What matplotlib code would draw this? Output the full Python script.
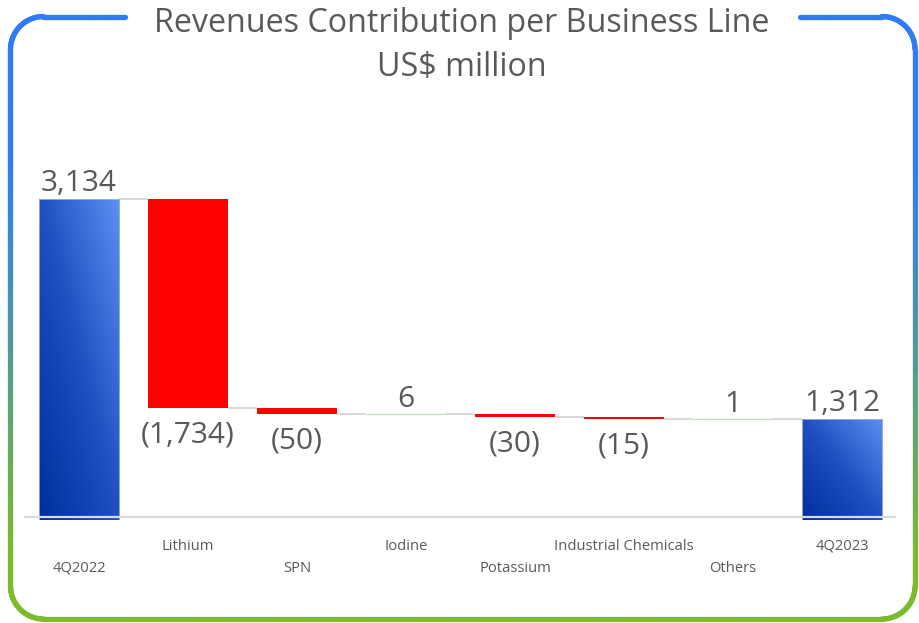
import matplotlib
matplotlib.use("Agg")
import matplotlib.pyplot as plt
import matplotlib.transforms as mtransforms
from matplotlib.collections import LineCollection
from matplotlib.colors import LinearSegmentedColormap, to_rgb
from matplotlib.patches import Rectangle
import numpy as np

# data
categories = ['4Q2022', 'Lithium', 'SPN', 'Iodine', 'Potassium',
              'Industrial Chemicals', 'Others', '4Q2023']
changes = [3134, -1734, -50, 6, -30, -15, 1, 1312]
is_total = [True, False, False, False, False, False, False, True]
label_row = [1, 0, 1, 0, 1, 0, 1, 0]   # 0 = upper row, 1 = lower row

TXT = '#595959'
RED = '#ff0000'
GREEN = '#c5e0b4'
GRID = '#d9d9d9'
plt.rcParams['font.family'] = ['Open Sans', 'DejaVu Sans']

W, H = 920, 623
fig = plt.figure(figsize=(W / 100, H / 100), dpi=100)

# main axes (y axis starts around 475, like the original)
ax = fig.add_axes([24.5 / W, 1 - 520 / H, 872 / W, 370 / H])
ymin, ymax = 475, 3541
x = np.arange(len(categories))
bw = 0.734

blue_cmap = LinearSegmentedColormap.from_list('blu', ['#002f9e', '#1f4fc0', '#5c8ff2'])

# running totals
bottoms, tops = [], []
run = 0
for v, tot in zip(changes, is_total):
    if tot:
        b, t = 0, v
        run = v
    else:
        b, t = run, run + v
        run = run + v
    bottoms.append(min(b, t))
    tops.append(max(b, t))

for i, v in enumerate(changes):
    if is_total[i]:
        rect = Rectangle((x[i] - bw / 2, 0), bw, v, facecolor='none',
                         edgecolor='#9db4e8', lw=0.6, zorder=3)
        ax.add_patch(rect)
        uu, vv = np.meshgrid(np.linspace(0, 1, 60), np.linspace(0, 1, 60))
        grad = 0.5 * uu + 0.5 * vv
        im = ax.imshow(grad, cmap=blue_cmap, origin='lower', aspect='auto',
                       extent=[x[i] - bw / 2, x[i] + bw / 2, ymin, v], zorder=2)
        im.set_clip_path(rect)
    elif v < 0:
        ax.bar(x[i], tops[i] - bottoms[i], bottom=bottoms[i], width=bw,
               color=RED, zorder=2)
    else:
        ax.bar(x[i], tops[i] - bottoms[i], bottom=bottoms[i], width=bw,
               color=GREEN, edgecolor=GREEN, lw=0.9, zorder=2)

# connector lines
level = changes[0]
for i in range(len(changes) - 1):
    if i > 0:
        level += changes[i]
    ax.plot([x[i] + bw / 2, x[i + 1] - bw / 2], [level, level],
            color=GRID, lw=1.5, zorder=1, solid_capstyle='butt')

ax.axhline(500, color=GRID, lw=1.6, zorder=4)

# value labels
for i, v in enumerate(changes):
    if is_total[i]:
        txt, y, va, off = f'{v:,}', tops[i], 'bottom', 1
    elif v > 0:
        txt, y, va, off = f'{v}', tops[i], 'bottom', 0
    else:
        txt, y, va, off = f'({abs(v):,})', bottoms[i], 'top', -9
    ax.annotate(txt, (x[i], y), xytext=(0, off), textcoords='offset points',
                ha='center', va=va, fontsize=21.5, color=TXT)

ax.set_xlim(-0.5, len(categories) - 0.5)
ax.set_ylim(ymin, ymax)
ax.axis('off')

# staggered category labels
trans = mtransforms.blended_transform_factory(ax.transData, fig.transFigure)
for i, c in enumerate(categories):
    ypix = 546.5 if label_row[i] == 0 else 568.5
    ax.text(x[i], 1 - ypix / H, c, transform=trans, ha='center', va='center',
            fontsize=10.6, color=TXT, clip_on=False)

# title
fig.text(462 / W, 1 - 24 / H, 'Revenues Contribution per Business Line',
         ha='center', va='center', fontsize=23.2, color=TXT)
fig.text(462 / W, 1 - 67 / H, 'US$ million',
         ha='center', va='center', fontsize=23.2, color=TXT)

# rounded gradient frame with a gap for the title
ov = fig.add_axes([0, 0, 1, 1], zorder=-1)
ov.set_xlim(0, W)
ov.set_ylim(H, 0)
ov.axis('off')
L, R, T, B, r = 10.5, 915, 16.5, 619, 33
pts = []
pts += [(xx, T) for xx in np.linspace(125, L + r, 40)]
a = np.linspace(np.pi / 2, np.pi, 30)
pts += [(L + r + r * np.cos(t), T + r - r * np.sin(t)) for t in a]
pts += [(L, yy) for yy in np.linspace(T + r, B - r, 200)]
a = np.linspace(np.pi, 1.5 * np.pi, 30)
pts += [(L + r + r * np.cos(t), B - r - r * np.sin(t)) for t in a]
pts += [(xx, B) for xx in np.linspace(L + r, R - r, 100)]
a = np.linspace(1.5 * np.pi, 2 * np.pi, 30)
pts += [(R - r + r * np.cos(t), B - r - r * np.sin(t)) for t in a]
pts += [(R, yy) for yy in np.linspace(B - r, T + r, 200)]
a = np.linspace(0, np.pi / 2, 30)
pts += [(R - r + r * np.cos(t), T + r - r * np.sin(t)) for t in a]
pts += [(xx, T) for xx in np.linspace(R - r, 800, 40)]
pts = np.array(pts)
segs = np.stack([pts[:-1], pts[1:]], axis=1)
ym = (segs[:, 0, 1] + segs[:, 1, 1]) / 2
c1, c2 = np.array(to_rgb('#2e7cf8')), np.array(to_rgb('#7cbb2b'))
f = np.clip((ym - 160) / (560 - 160), 0, 1)[:, None]
cols = c1 * (1 - f) + c2 * f
ov.add_collection(LineCollection(segs, colors=cols, linewidths=3.8,
                                 capstyle='round'))

fig.savefig('out.png', dpi=100, facecolor='white')
